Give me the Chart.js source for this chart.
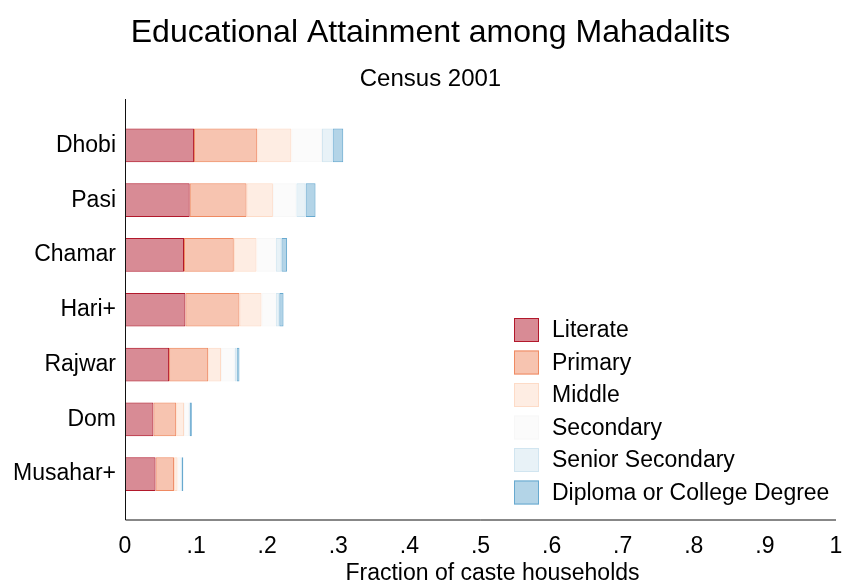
<!DOCTYPE html>
<html>
<head>
<meta charset="utf-8">
<title>Educational Attainment among Mahadalits</title>
<script src="https://cdn.jsdelivr.net/npm/chart.js@4.4.1/dist/chart.umd.min.js"></script>
<style>
    html, body { margin: 0; padding: 0; background: #fff; overflow: hidden; }
    #wrap { width: 849px; height: 587px; position: relative; }
    canvas { display: block; }
</style>
</head>
<body>
<div id="wrap"><canvas id="eduChart"></canvas></div>
<script>
// Castes (top to bottom) and fraction of households at each level
const castes = ['Dhobi', 'Pasi', 'Chamar', 'Hari+', 'Rajwar', 'Dom', 'Musahar+'];

const literate        = [0.097, 0.091, 0.083, 0.085, 0.062, 0.040, 0.043];
const primary         = [0.089, 0.080, 0.070, 0.076, 0.055, 0.032, 0.026];
const middle          = [0.048, 0.037, 0.032, 0.031, 0.018, 0.011, 0.005];
const secondary       = [0.043, 0.033, 0.027, 0.020, 0.019, 0.007, 0.004];
const seniorSecondary = [0.015, 0.013, 0.008, 0.005, 0.003, 0.001, 0.002];
const diploma         = [0.015, 0.014, 0.008, 0.006, 0.004, 0.003, 0.002];

const levelNames = ['Literate', 'Primary', 'Middle', 'Secondary', 'Senior Secondary', 'Diploma or College Degree'];
const xTickLabels = ['0', '.1', '.2', '.3', '.4', '.5', '.6', '.7', '.8', '.9', '1'];
const xAxisTitle = 'Fraction of caste households';

// RdBu palette, fills at half opacity
const lineColors = ['#b2182b', '#ef8a62', '#fddbc7', '#f7f7f7', '#d1e5f0', '#67a9cf'];
const fillColors = [
    'rgba(178,24,43,0.5)',
    'rgba(239,138,98,0.5)',
    'rgba(253,219,199,0.5)',
    'rgba(247,247,247,0.5)',
    'rgba(209,229,240,0.5)',
    'rgba(103,169,207,0.5)'
];

const FONT = 'Liberation Sans, Arial, Helvetica, sans-serif';

const series = [literate, primary, middle, secondary, seniorSecondary, diploma];
const datasets = series.map((values, i) => ({
    label: levelNames[i],
    data: values,
    backgroundColor: fillColors[i],
    borderColor: lineColors[i],
    borderWidth: 1,
    borderSkipped: false,
    barPercentage: 0.615,
    categoryPercentage: 1.0
}));

// Axis lines (a bit longer than the plot area, as in Stata) and the x axis title
const frame = {
    id: 'frame',
    afterLayout(chart) {
        // let the long caste names spill into the left padding instead of being clipped
        chart.scales.y.left = 0;
    },
    afterDraw(chart) {
        const { ctx, chartArea } = chart;
        ctx.save();
        ctx.strokeStyle = '#111';
        ctx.lineWidth = 1;
        ctx.beginPath();
        ctx.moveTo(chartArea.left + 0.5, chartArea.top - 19);
        ctx.lineTo(chartArea.left + 0.5, chartArea.bottom + 18.5);
        ctx.lineTo(chartArea.right, chartArea.bottom + 18.5);
        ctx.stroke();

        ctx.fillStyle = '#000';
        ctx.font = '23px ' + FONT;
        ctx.textAlign = 'center';
        ctx.textBaseline = 'middle';
        ctx.fillText(xAxisTitle, (chartArea.left + chartArea.right) / 2 + 12, chart.height - 13);
        ctx.restore();
    }
};

// Legend drawn inside the plot, lower right
const insideLegend = {
    id: 'insideLegend',
    afterDraw(chart) {
        const ctx = chart.ctx;
        const x0 = 514, y0 = 330, step = 32.5;
        ctx.save();
        ctx.font = '23px ' + FONT;
        ctx.textBaseline = 'middle';
        ctx.textAlign = 'left';
        chart.data.datasets.forEach((ds, i) => {
            const cy = y0 + i * step;
            ctx.fillStyle = ds.backgroundColor;
            ctx.fillRect(x0, cy - 12, 25, 24);
            ctx.strokeStyle = ds.borderColor;
            ctx.lineWidth = 1;
            ctx.strokeRect(x0 + 0.5, cy - 11.5, 24, 23);
            ctx.fillStyle = '#000';
            ctx.fillText(ds.label, x0 + 38, cy + 1);
        });
        ctx.restore();
    }
};

new Chart(document.getElementById('eduChart').getContext('2d'), {
    type: 'bar',
    data: { labels: castes, datasets: datasets },
    options: {
        indexAxis: 'y',
        responsive: true,
        maintainAspectRatio: false,
        animation: false,
        layout: { padding: { left: 25, right: 13, top: 0, bottom: 0 } },
        plugins: {
            legend: { display: false },
            tooltip: { enabled: false },
            title: {
                display: true,
                text: 'Educational Attainment among Mahadalits',
                color: '#000',
                font: { family: FONT, size: 32, weight: 'normal' },
                padding: { top: 14, bottom: 13 }
            },
            subtitle: {
                display: true,
                text: 'Census 2001',
                color: '#000',
                font: { family: FONT, size: 24, weight: 'normal' },
                padding: { top: 0, bottom: 23.8 }
            }
        },
        scales: {
            x: {
                stacked: true,
                min: 0,
                max: 1,
                grid: { display: false, drawTicks: false },
                border: { display: false },
                ticks: {
                    stepSize: 0.1,
                    color: '#000',
                    padding: 31,
                    maxRotation: 0,
                    font: { family: FONT, size: 23 },
                    callback: (v, i) => xTickLabels[i]
                },
                afterFit: (scale) => {
                    scale.height = 85.5;
                    scale.paddingLeft = 0;
                    scale.paddingRight = 0;
                }
            },
            y: {
                stacked: true,
                grid: { display: false, drawTicks: false },
                border: { display: false },
                ticks: {
                    color: '#000',
                    padding: 9,
                    font: { family: FONT, size: 23 }
                },
                afterFit: (scale) => { scale.width = 100; }
            }
        }
    },
    plugins: [frame, insideLegend]
});
</script>
</body>
</html>
